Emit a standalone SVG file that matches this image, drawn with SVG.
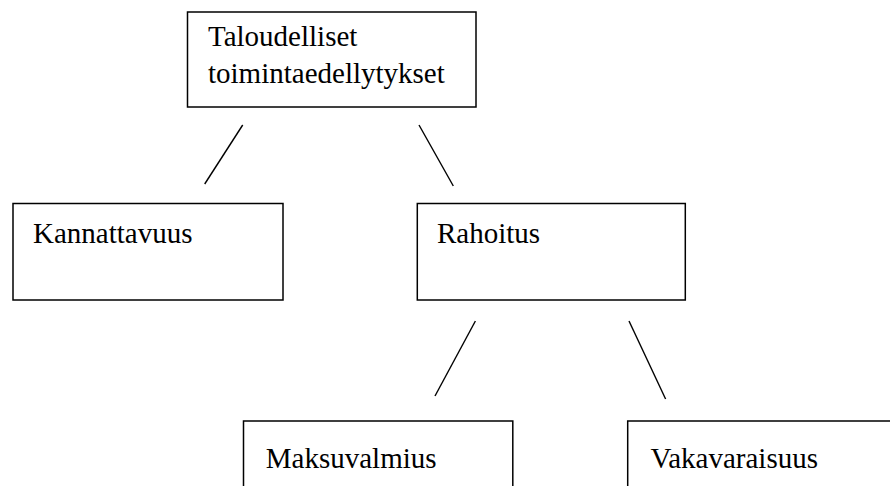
<svg xmlns="http://www.w3.org/2000/svg" width="890" height="486" viewBox="0 0 890 486">
<style>
.box{fill:#fff;stroke:#000;stroke-width:1.5}
.lbl{font-family:"Liberation Serif","Times New Roman",serif;font-size:29px;fill:#000}
.con{stroke:#000;stroke-width:1.4;fill:none}
</style>
<rect width="890" height="486" fill="#fff"/>
<g id="connectors">
<line class="con" x1="242.7" y1="125" x2="204.7" y2="184"/>
<line class="con" x1="419" y1="125" x2="453.3" y2="186"/>
<line class="con" x1="475.4" y1="321" x2="435" y2="396"/>
<line class="con" x1="629" y1="321" x2="665.6" y2="399"/>
</g>
<g id="node-taloudelliset">
<rect class="box" x="187.5" y="12" width="288.5" height="95"/>
<text class="lbl" x="208" y="45.7">Taloudelliset</text>
<text class="lbl" x="208" y="82.7">toimintaedellytykset</text>
</g>
<g id="node-kannattavuus">
<rect class="box" x="13" y="203.5" width="270" height="96.5"/>
<text class="lbl" x="33" y="242.7">Kannattavuus</text>
</g>
<g id="node-rahoitus">
<rect class="box" x="417.3" y="203.5" width="268" height="96.5"/>
<text class="lbl" x="437" y="242.7">Rahoitus</text>
</g>
<g id="node-maksuvalmius">
<rect class="box" x="243.5" y="421" width="269.3" height="80"/>
<text class="lbl" x="265.8" y="468">Maksuvalmius</text>
</g>
<g id="node-vakavaraisuus">
<rect class="box" x="627.7" y="421" width="280" height="80"/>
<text class="lbl" x="650.5" y="468">Vakavaraisuus</text>
</g>
</svg>
